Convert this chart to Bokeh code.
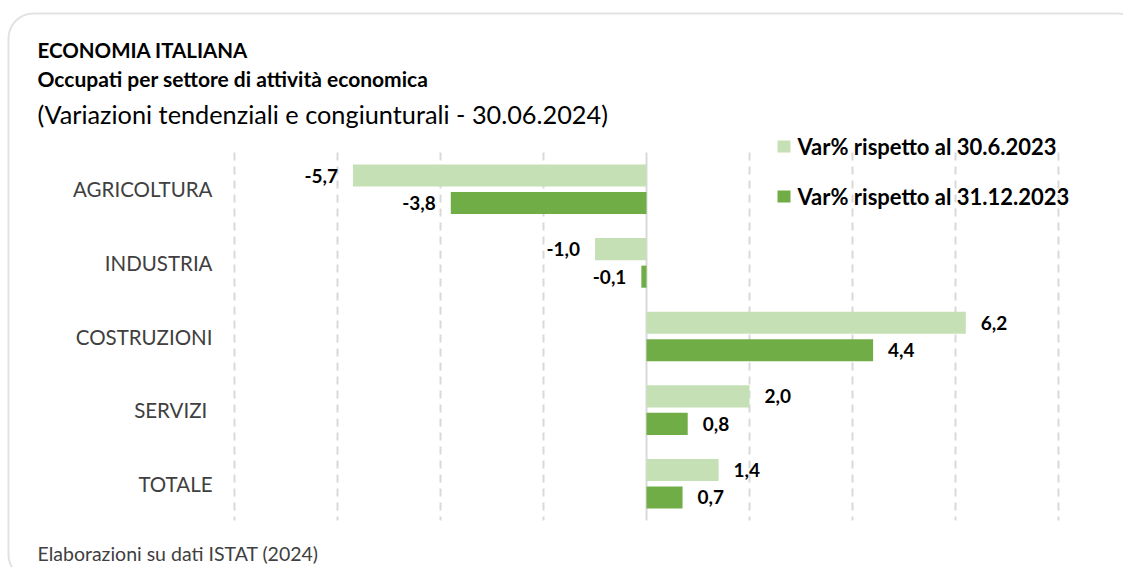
from bokeh.plotting import figure
from bokeh.models import ColumnDataSource, Range1d, BoxAnnotation, Label
from bokeh.core.properties import value, field
from bokeh.embed import file_html
from bokeh.resources import INLINE

# ---- data ----
categories = ["AGRICOLTURA", "INDUSTRIA", "COSTRUZIONI", "SERVIZI ", "TOTALE"]
var_annua = [-5.7, -1.0, 6.2, 2.0, 1.4]        # Var% rispetto al 30.6.2023
var_semestre = [-3.8, -0.1, 4.4, 0.8, 0.7]     # Var% rispetto al 31.12.2023
series_names = ["Var% rispetto al 30.6.2023", "Var% rispetto al 31.12.2023"]
x_ticks = [-8, -6, -4, -2, 2, 4, 6, 8]
x_min, x_max = -8, 8

LIGHT = "#c5e0b4"
DARK = "#70ad47"
GRID = "#d9d9d9"
FONT = "Lato"

W, H = 1123, 567
# plot area in canvas pixels
PL, PR, PT, PB = 234, 1058, 152, 520
n = len(categories)
sx = (PR - PL) / (x_max - x_min)
sy = (PB - PT) / n
x_range = Range1d(x_min - PL / sx, x_max + (W - PR) / sx)
y_range = Range1d(n - 0.5 + (H - PB) / sy, -0.5 - PT / sy)   # flipped: first category on top

def fmt(v):
    return f"{v:.1f}".replace(".", ",")

off = 0.187
h = 0.30
idx = list(range(n))

def make_src(vals, o):
    return ColumnDataSource(dict(
        y=[i + o for i in idx],
        val=vals,
        txt=[fmt(v) for v in vals],
        align=["right" if v < 0 else "left" for v in vals],
        xoff=[-15 if v < 0 else 15 for v in vals],
    ))

src1 = make_src(var_annua, -off)
src2 = make_src(var_semestre, off)

p = figure(width=W, height=H, output_backend="svg", toolbar_location=None,
           x_range=x_range, y_range=y_range, min_border=0)
p.axis.visible = False
p.grid.visible = False
p.outline_line_color = None

# gridlines
p.segment(x0=x_ticks, x1=x_ticks, y0=-0.5, y1=n - 0.5, line_color=GRID,
          line_width=2, line_dash="8 6")
p.segment(x0=[0], x1=[0], y0=-0.5, y1=n - 0.5, line_color=GRID, line_width=2)

# bars
p.hbar(y="y", right="val", left=0, height=h, source=src1, fill_color=LIGHT, line_color=None)
p.hbar(y="y", right="val", left=0, height=h, source=src2, fill_color=DARK, line_color=None)

# value labels
for src in (src1, src2):
    p.text(x="val", y="y", text="txt", source=src,
           x_offset="xoff", text_align=field("align"), text_baseline="middle",
           text_font=value(FONT), text_font_style="bold", text_font_size="19px",
           text_color="#000000")

# category labels
p.text(x=[x_min] * n, y=idx, text=categories, x_offset=-22, text_align="right",
       text_baseline="middle", text_font=value(FONT), text_font_size="20.5px",
       text_color="#404040")

# panel border
p.add_layout(BoxAnnotation(left=8, right=1142, top=13, bottom=579,
                           left_units="canvas", right_units="canvas",
                           top_units="canvas", bottom_units="canvas",
                           fill_color=None, line_color="#a0a0a0", line_width=2,
                           border_radius=25))

# legend (manual)
leg_y = [146, 196]
for name, col, yc in zip(series_names, [LIGHT, DARK], leg_y):
    p.add_layout(BoxAnnotation(left=777, right=790, top=yc - 6, bottom=yc + 6,
                               left_units="canvas", right_units="canvas",
                               top_units="canvas", bottom_units="canvas",
                               fill_color=col, fill_alpha=1, line_color=None))
    p.add_layout(Label(x=797, y=H - yc, x_units="screen", y_units="screen",
                       text=name, text_font=FONT, text_font_style="bold",
                       text_font_size="22px", text_baseline="middle",
                       text_color="#000000"))

# titles
for txt, yc, size, style in [
    ("ECONOMIA ITALIANA", 49, "20.5px", "bold"),
    ("Occupati per settore di attività economica", 78, "21px", "bold"),
    ("(Variazioni tendenziali e congiunturali - 30.06.2024)", 113, "25.3px", "normal"),
]:
    p.add_layout(Label(x=37, y=H - yc, x_units="screen", y_units="screen", text=txt,
                       text_font=FONT, text_font_style=style, text_font_size=size,
                       text_baseline="middle", text_color="#000000"))

p.add_layout(Label(x=37, y=H - 553, x_units="screen", y_units="screen",
                   text="Elaborazioni su dati ISTAT (2024)", text_font=FONT,
                   text_font_size="19.5px", text_baseline="middle", text_color="#404040"))

open("out.html", "w").write(file_html(p, INLINE))
